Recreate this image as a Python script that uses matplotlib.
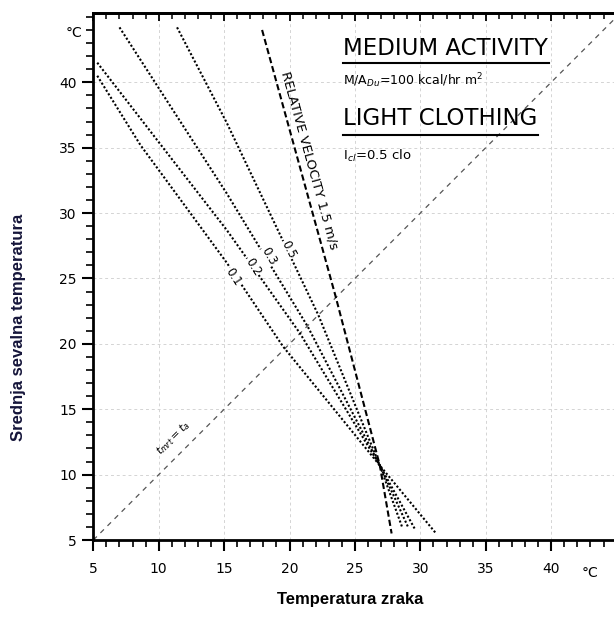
import matplotlib
matplotlib.use('Agg')
import matplotlib.pyplot as plt
from matplotlib.ticker import MultipleLocator

# Podatki odcitani s slike (temperatura zraka, srednja sevalna temperatura)
v01_x = [5.3, 8.6, 15.2, 19.5, 26.9, 31.2]
v01_y = [40.5, 35.2, 26.2, 19.8, 10.7, 5.5]
v02_x = [5.3, 15.2, 20.8, 26.9, 29.6]
v02_y = [41.5, 28.7, 20.8, 10.7, 5.8]
v03_x = [7.0, 15.2, 21.4, 26.9, 29.1]
v03_y = [44.2, 31.5, 21.3, 10.7, 5.9]
v05_x = [11.4, 15.2, 22.2, 26.9, 28.6]
v05_y = [44.2, 36.9, 22.2, 10.7, 6.0]
v15_x = [17.9, 23.5, 26.9, 27.8]
v15_y = [44.0, 23.7, 10.7, 5.5]
diag_x = [5, 46]
diag_y = [5, 46]

x_ticks = [5, 10, 15, 20, 25, 30, 35, 40]
y_ticks = [5, 10, 15, 20, 25, 30, 35, 40]
grid_vals = [10, 15, 20, 25, 30, 35, 40]

# oznake hitrosti: (besedilo, x, y, kot)
oznake = [("0.1", 15.7, 25.1, -57),
          ("0.2", 17.2, 25.9, -58),
          ("0.3", 18.4, 26.7, -60),
          ("0.5", 19.9, 27.2, -63)]

fig = plt.figure(figsize=(6.14, 6.23), dpi=100)
ax = fig.add_axes([0.152, 0.1332, 0.848, 0.846])
ax.set_xlim(5, 44.8)
ax.set_ylim(5, 45.3)

# mreza
for g in grid_vals:
    ax.axvline(g, color='#d4d4d4', lw=0.7, ls=(0, (3, 3)), zorder=0)
    ax.axhline(g, color='#d4d4d4', lw=0.7, ls=(0, (3, 3)), zorder=0)

# diagonala t_mrt = t_a
ax.plot(diag_x, diag_y, color='#555555', lw=0.9, ls=(0, (4, 4)))
ax.text(11.1, 12.8, r"$t_{mrt}=t_a$", rotation=45, fontsize=8,
        ha='center', va='center')

# krivulje udobja
for xs, ys in [(v01_x, v01_y), (v02_x, v02_y), (v03_x, v03_y), (v05_x, v05_y)]:
    ax.plot(xs, ys, color='black', lw=1.5, ls=(0, (1, 1)))
ax.plot(v15_x, v15_y, color='black', lw=1.5, ls=(0, (3, 1.5)))

for t, x, y, r in oznake:
    ax.text(x, y, t, rotation=r, fontsize=8.5, ha='center', va='center',
            bbox=dict(facecolor='white', edgecolor='none', pad=0.5))

ax.text(21.5, 34.0, "RELATIVE VELOCITY 1.5 m/s", rotation=-74.5, fontsize=9.5,
        ha='center', va='center', rotation_mode='anchor')

# napisi desno zgoraj
ax.text(24.1, 42.6, "MEDIUM ACTIVITY", fontsize=16.5, ha='left', va='center')
ax.plot([24.1, 39.8], [41.5, 41.5], color='black', lw=1.5)
ax.text(24.1, 40.1, r"M/A$_{Du}$=100 kcal/hr m$^2$", fontsize=9, ha='left', va='center')
ax.text(24.1, 37.2, "LIGHT CLOTHING", fontsize=16.5, ha='left', va='center')
ax.plot([24.1, 39.0], [36.0, 36.0], color='black', lw=1.5)
ax.text(24.1, 34.4, r"I$_{cl}$=0.5 clo", fontsize=9.5, ha='left', va='center')

# osi
ax.spines['right'].set_visible(False)
for s in ['left', 'bottom', 'top']:
    ax.spines[s].set_linewidth(2)
ax.set_xticks(x_ticks)
ax.set_yticks(y_ticks)
ax.xaxis.set_minor_locator(MultipleLocator(1))
ax.yaxis.set_minor_locator(MultipleLocator(1))
ax.tick_params(axis='x', which='major', length=8, width=1.5, pad=8, labelsize=10)
ax.tick_params(axis='x', which='minor', length=5, width=1.2)
ax.tick_params(axis='y', which='major', length=8, width=1.5, pad=4, labelsize=10)
ax.tick_params(axis='y', which='minor', length=5, width=1.2)

# zgornja os s kratkimi crticami navznoter
top = ax.secondary_xaxis('top')
top.set_xticks(x_ticks)
top.set_xticklabels([])
top.xaxis.set_minor_locator(MultipleLocator(1))
top.tick_params(which='major', direction='in', length=6, width=1.3)
top.tick_params(which='minor', direction='in', length=4, width=1.1)
top.spines['top'].set_linewidth(2)

ax.text(43, 3.0, "°C", fontsize=10, ha='center', va='top', clip_on=False)
ax.text(4.2, 43.8, "°C", fontsize=10, ha='right', va='center', clip_on=False)

fig.text(0.57, 0.037, "Temperatura zraka", fontsize=12, fontweight='bold',
         family='Liberation Sans', ha='center', va='center')
fig.text(0.03, 0.475, "Srednja sevalna temperatura", fontsize=12, fontweight='bold',
         family='Liberation Sans', color='#15153a', rotation=90, ha='center', va='center')

fig.savefig("out.png", dpi=100)
